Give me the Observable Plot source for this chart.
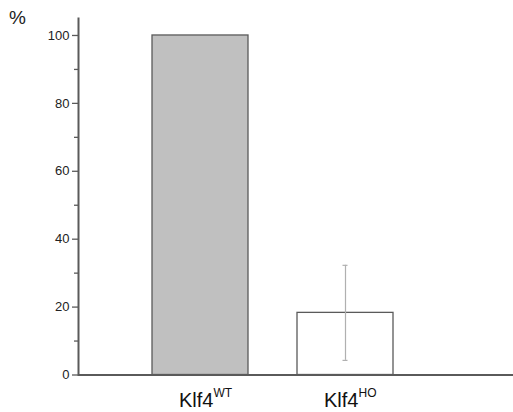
<!DOCTYPE html>
<html>
<head>
<meta charset="utf-8">
<script src="https://cdn.jsdelivr.net/npm/d3@7"></script>
<script src="https://cdn.jsdelivr.net/npm/@observablehq/plot@0.6"></script>
<style>
  html, body { margin: 0; padding: 0; background: #fff; }
  #chart { position: relative; width: 513px; height: 412px; }
  #pct { position: absolute; left: 9px; top: 7px; font: 19px "Liberation Sans", Arial, sans-serif; color: #222; }
</style>
</head>
<body>
<div id="chart"><div id="pct">%</div></div>
<script>
const categories = ["WT", "HO"];
const values = [100, 18.3];
const errors = [0, 14];
const labelBase = "Klf4";
const labelSup = ["WT", "HO"];
const majorTicks = [0, 20, 40, 60, 80, 100];
const minorTicks = [10, 30, 50, 70, 90];

const data = categories.map((c, i) => ({
  cat: c, value: values[i], err: errors[i],
  lo: values[i] - errors[i], hi: values[i] + errors[i], sup: labelSup[i]
}));
const errData = data.filter(d => d.err > 0);
const axisColor = "#5a5a5a";

const chart = Plot.plot({
  width: 513,
  height: 412,
  marginLeft: 78,
  marginRight: 0,
  marginTop: 18,
  marginBottom: 37.5,
  style: { fontFamily: "'Liberation Sans', Arial, sans-serif", background: "transparent" },
  x: { domain: categories, paddingInner: 0.336, paddingOuter: 0.658, align: 0.38, axis: null },
  y: { domain: [0, 105], axis: null },
  marks: [
    Plot.barY(data, { x: "cat", y: "value", fill: d => d.cat === "WT" ? "#c0c0c0" : "#ffffff", stroke: axisColor, strokeWidth: 1.3 }),
    Plot.ruleX(errData, { x: "cat", y1: "lo", y2: "hi", stroke: "#b0b0b0", strokeWidth: 1.2 }),
    Plot.tickY(errData, { x: "cat", y: "lo", stroke: "#b0b0b0", strokeWidth: 1.2, insetLeft: 45.5, insetRight: 45.5 }),
    Plot.tickY(errData, { x: "cat", y: "hi", stroke: "#b0b0b0", strokeWidth: 1.2, insetLeft: 45.5, insetRight: 45.5 }),
    Plot.axisY(majorTicks, { tickSize: 6, tickPadding: 3, stroke: axisColor, fill: "#222", fontSize: 13, label: null, strokeWidth: 1.3 }),
    Plot.axisY(minorTicks, { tickSize: 4, text: null, stroke: axisColor, label: null, strokeWidth: 1.3 }),
    Plot.frame({ anchor: "left", stroke: axisColor, strokeWidth: 2 }),
    Plot.ruleY([0], { stroke: axisColor, strokeWidth: 2 }),
    Plot.text(data, { x: "cat", text: () => labelBase, frameAnchor: "bottom", textAnchor: "end", dx: 13, dy: 26, lineAnchor: "middle", fontSize: 20, fill: "#111" }),
    Plot.text(data, { x: "cat", text: "sup", frameAnchor: "bottom", textAnchor: "start", dx: 13, dy: 18, lineAnchor: "middle", fontSize: 12, fill: "#111" })
  ]
});
document.getElementById("chart").appendChild(chart);
</script>
</body>
</html>
